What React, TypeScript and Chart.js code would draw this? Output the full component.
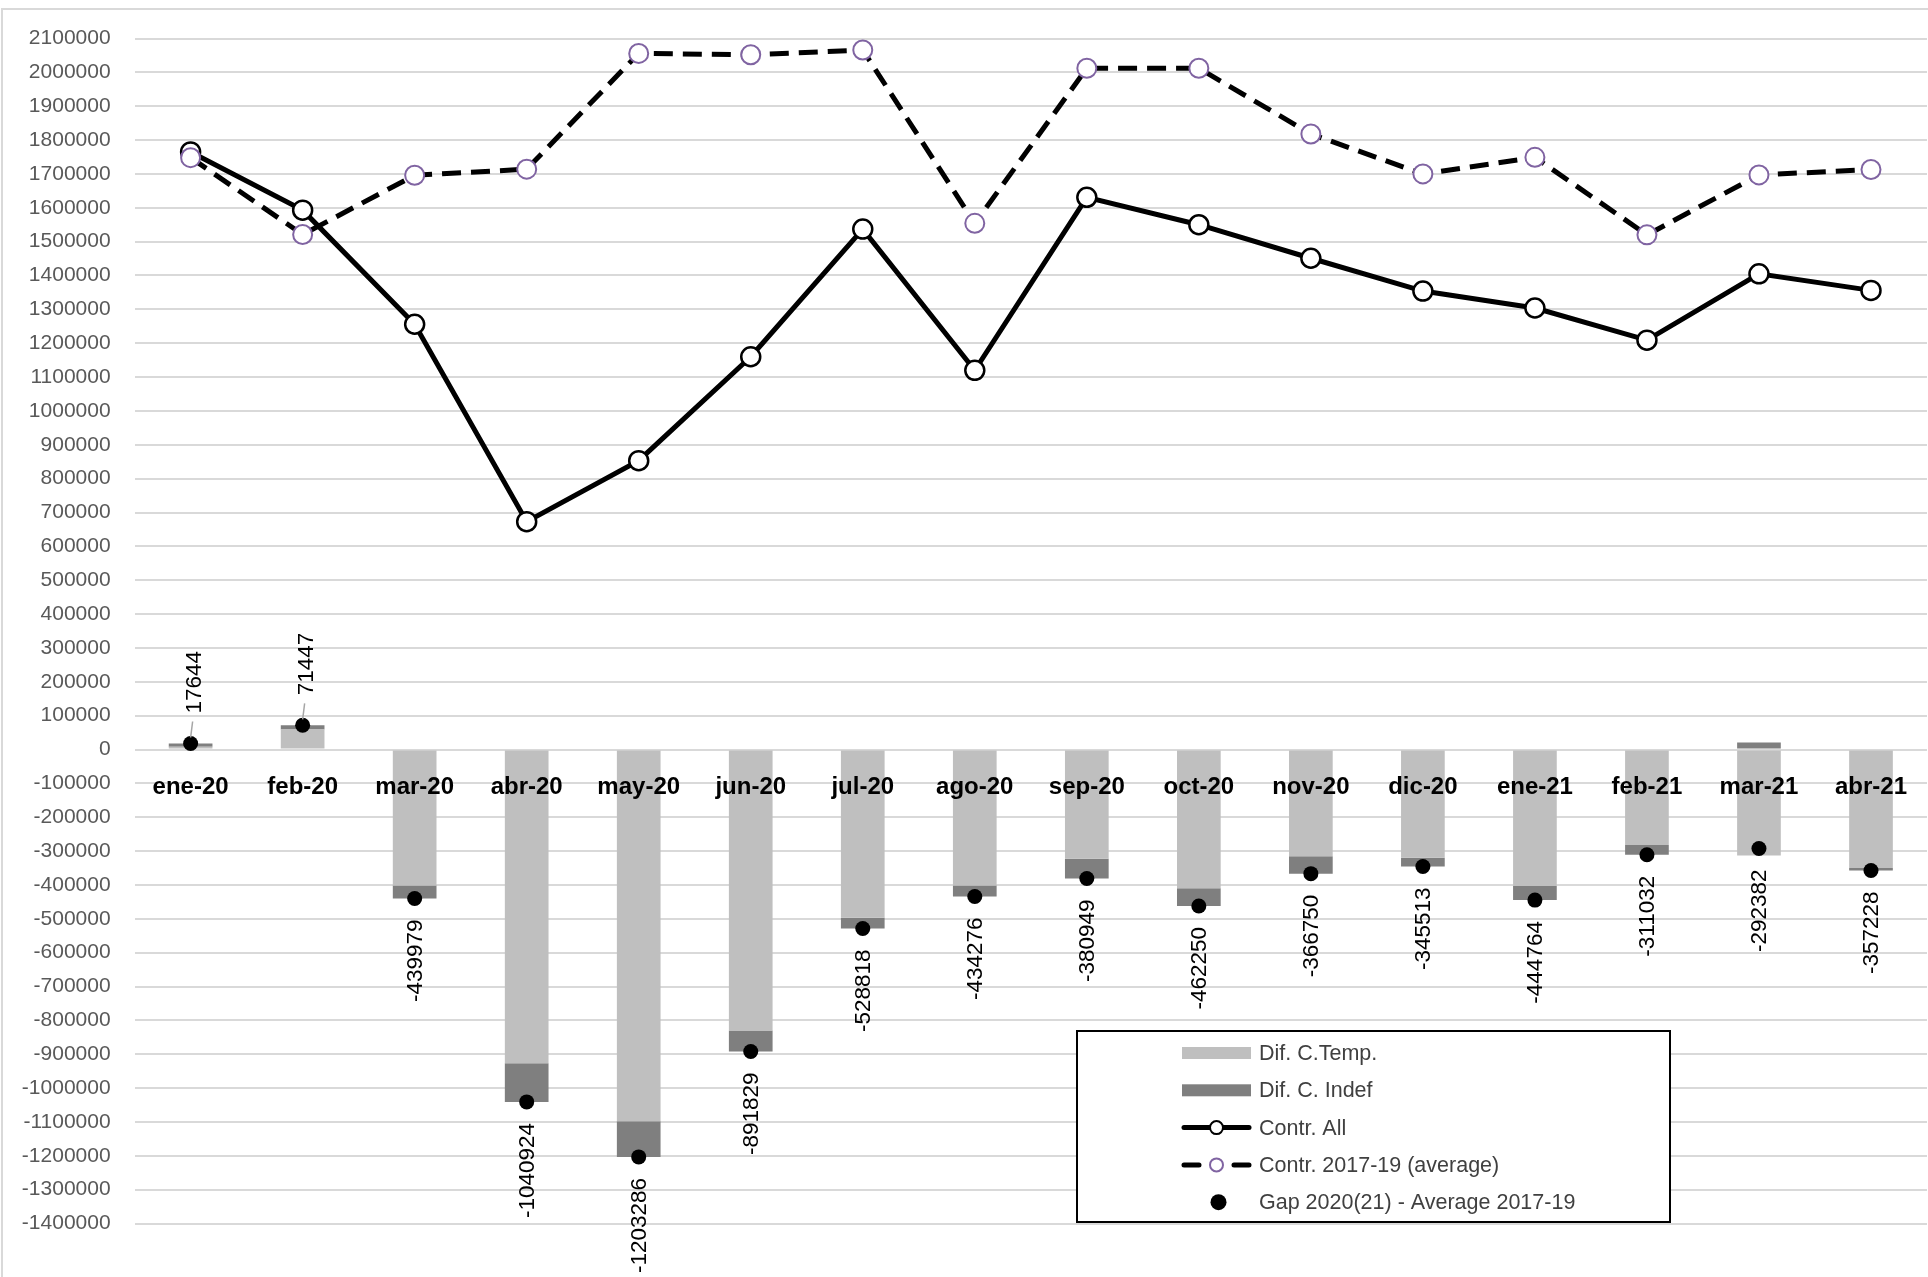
import React, { useEffect, useRef } from "react";
import { Chart, registerables } from "chart.js";

Chart.register(...registerables);

const FONT = "'Liberation Sans', Arial, sans-serif";

const months = [
  "ene-20", "feb-20", "mar-20", "abr-20", "may-20", "jun-20", "jul-20", "ago-20",
  "sep-20", "oct-20", "nov-20", "dic-20", "ene-21", "feb-21", "mar-21", "abr-21",
];

// Difference in temporary contracts vs. 2017-19 average
const difTemp = [
  8000, 59000, -402000, -927000, -1098000, -830000, -497000, -402000,
  -323000, -410000, -315000, -320000, -403000, -282000, -313000, -350000,
];

// Difference in open-ended contracts vs. 2017-19 average
const difIndef = [
  9644, 12447, -37979, -113924, -105286, -61829, -31818, -32276,
  -57949, -52250, -51750, -25513, -41764, -29032, 20618, -7228,
];

// Total contracts signed each month
const contrAll = [
  1765000, 1593000, 1256000, 673000, 853000, 1160000, 1537000, 1120000,
  1631000, 1550000, 1451000, 1354000, 1304000, 1209000, 1405000, 1356000,
];

// Average contracts for the same month in 2017-19
const contrAvg = [
  1748000, 1521000, 1696000, 1714000, 2056000, 2052000, 2066000, 1554000,
  2012000, 2012000, 1818000, 1700000, 1749000, 1520000, 1697000, 1713000,
];

// Gap 2020(21) minus average 2017-19 (labelled values)
const gap = [
  17644, 71447, -439979, -1040924, -1203286, -891829, -528818, -434276,
  -380949, -462250, -366750, -345513, -444764, -311032, -292382, -357228,
];

const yMin = -1400000;
const yMax = 2100000;
const yStep = 100000;

const LABEL_TEMP = "Dif. C.Temp.";
const LABEL_INDEF = "Dif. C. Indef";
const LABEL_ALL = "Contr. All";
const LABEL_AVG = "Contr. 2017-19 (average)";
const LABEL_GAP = "Gap 2020(21) - Average 2017-19";

const legendOrder = [LABEL_TEMP, LABEL_INDEF, LABEL_ALL, LABEL_AVG, LABEL_GAP];

const framePlugin = {
  id: "frame",
  beforeDraw(chart: any) {
    const { ctx } = chart;
    ctx.save();
    ctx.fillStyle = "#ffffff";
    ctx.fillRect(0, 0, chart.width, chart.height);
    ctx.strokeStyle = "#D9D9D9";
    ctx.lineWidth = 2;
    ctx.strokeRect(2, 9, chart.width + 20, chart.height + 20);
    ctx.restore();
  },
};

const gapLabelPlugin = {
  id: "gapLabels",
  afterDatasetsDraw(chart: any) {
    const idx = chart.data.datasets.findIndex((d: any) => d.label === LABEL_GAP);
    if (idx < 0) return;
    const meta = chart.getDatasetMeta(idx);
    const values = chart.data.datasets[idx].data as number[];
    const { ctx } = chart;
    ctx.save();
    ctx.font = `22.5px ${FONT}`;
    ctx.fillStyle = "#000000";
    ctx.textBaseline = "middle";
    meta.data.forEach((pt: any, i: number) => {
      const v = values[i];
      const { x, y } = pt;
      if (v >= 0) {
        ctx.save();
        ctx.strokeStyle = "#A6A6A6";
        ctx.lineWidth = 1.5;
        ctx.beginPath();
        ctx.moveTo(x, y - 6);
        ctx.lineTo(x + 2, y - 22);
        ctx.stroke();
        ctx.restore();
      }
      ctx.save();
      ctx.translate(x, y);
      ctx.rotate(-Math.PI / 2);
      if (v < 0) {
        ctx.textAlign = "right";
        ctx.fillText(String(v), -21, 1);
      } else {
        ctx.textAlign = "left";
        ctx.fillText(String(v), 30, 4);
      }
      ctx.restore();
    });
    ctx.restore();
  },
};

const legendPlugin = {
  id: "boxLegend",
  afterDraw(chart: any) {
    const { ctx } = chart;
    const left = 1077;
    const top = 1031;
    const w = 593;
    const h = 191;
    ctx.save();
    ctx.fillStyle = "#ffffff";
    ctx.fillRect(left, top, w, h);
    ctx.strokeStyle = "#000000";
    ctx.lineWidth = 2;
    ctx.strokeRect(left, top, w, h);

    const symL = 1182;
    const symR = 1251;
    const symC = (symL + symR) / 2;
    const textX = 1259;
    ctx.font = `21.5px ${FONT}`;
    ctx.textBaseline = "middle";
    ctx.textAlign = "left";

    legendOrder.forEach((label, i) => {
      const ds: any = chart.data.datasets.find((d: any) => d.label === label);
      if (!ds) return;
      const cy = top + 22 + i * 37.3;
      if (ds.type === "bar") {
        ctx.fillStyle = ds.backgroundColor;
        ctx.fillRect(symL, cy - 6, symR - symL, 12);
      } else if (ds.showLine === false) {
        ctx.fillStyle = ds.pointBackgroundColor;
        ctx.beginPath();
        ctx.arc(symC + 2, cy, 8, 0, Math.PI * 2);
        ctx.fill();
      } else {
        ctx.strokeStyle = ds.borderColor;
        ctx.lineWidth = 5;
        ctx.lineCap = "round";
        ctx.beginPath();
        if (ds.borderDash) {
          ctx.moveTo(symL + 2, cy);
          ctx.lineTo(symL + 17, cy);
          ctx.moveTo(symR - 17, cy);
          ctx.lineTo(symR - 2, cy);
        } else {
          ctx.moveTo(symL + 2, cy);
          ctx.lineTo(symR - 2, cy);
        }
        ctx.stroke();
        ctx.beginPath();
        ctx.arc(symC, cy, 6.5, 0, Math.PI * 2);
        ctx.fillStyle = ds.pointBackgroundColor;
        ctx.fill();
        ctx.lineWidth = 2;
        ctx.strokeStyle = ds.pointBorderColor;
        ctx.stroke();
      }
      ctx.fillStyle = "#404040";
      ctx.fillText(label, textX, cy + 1);
    });
    ctx.restore();
  },
};

export default function App() {
  const canvasRef = useRef<HTMLCanvasElement | null>(null);

  useEffect(() => {
    const canvas = canvasRef.current;
    if (!canvas) return;

    const chart = new Chart(canvas, {
      type: "bar",
      data: {
        labels: months,
        datasets: [
          {
            type: "line",
            label: LABEL_GAP,
            data: gap,
            showLine: false,
            pointRadius: 7.5,
            pointBackgroundColor: "#000000",
            pointBorderColor: "#000000",
            pointBorderWidth: 0,
            stack: "gap",
            order: 0,
          } as any,
          {
            type: "line",
            label: LABEL_AVG,
            data: contrAvg,
            borderColor: "#000000",
            borderWidth: 5,
            borderDash: [19, 10],
            pointRadius: 9.5,
            pointBackgroundColor: "#ffffff",
            pointBorderColor: "#8064A2",
            pointBorderWidth: 2,
            tension: 0,
            stack: "avg",
            order: 1,
          } as any,
          {
            type: "line",
            label: LABEL_ALL,
            data: contrAll,
            borderColor: "#000000",
            borderWidth: 5,
            pointRadius: 9.5,
            pointBackgroundColor: "#ffffff",
            pointBorderColor: "#000000",
            pointBorderWidth: 2.5,
            tension: 0,
            stack: "all",
            order: 2,
          } as any,
          {
            type: "bar",
            label: LABEL_TEMP,
            data: difTemp,
            backgroundColor: "#BFBFBF",
            stack: "dif",
            barPercentage: 0.39,
            categoryPercentage: 1,
            order: 3,
          } as any,
          {
            type: "bar",
            label: LABEL_INDEF,
            data: difIndef,
            backgroundColor: "#7F7F7F",
            stack: "dif",
            barPercentage: 0.39,
            categoryPercentage: 1,
            order: 3,
          } as any,
        ],
      },
      options: {
        responsive: false,
        maintainAspectRatio: false,
        devicePixelRatio: 1,
        animation: false,
        layout: {
          autoPadding: false,
          padding: { left: 0, right: 1, top: 38.5, bottom: 53.5 },
        },
        plugins: {
          legend: { display: false },
          tooltip: { enabled: false },
        },
        scales: {
          x: {
            stacked: true,
            position: { y: 0 } as any,
            offset: true,
            afterFit: (scale: any) => {
              scale.paddingLeft = 0;
              scale.paddingRight = 0;
            },
            grid: { display: false, drawTicks: false },
            border: { display: false },
            ticks: {
              z: 1,
              color: "#000000",
              font: { family: FONT, size: 24, weight: "bold" },
              padding: 23,
              autoSkip: false,
              maxRotation: 0,
            },
          },
          y: {
            stacked: true,
            min: yMin,
            max: yMax,
            afterFit: (scale: any) => {
              scale.width = 134.6;
            },
            grid: { color: "#D9D9D9", lineWidth: 2, drawTicks: false },
            border: { display: false },
            ticks: {
              stepSize: yStep,
              autoSkip: false,
              color: "#595959",
              font: { family: FONT, size: 21 },
              padding: 24,
              callback: (v: any) => String(v),
            },
          },
        },
      },
      plugins: [framePlugin, gapLabelPlugin, legendPlugin],
    } as any);

    return () => chart.destroy();
  }, []);

  return (
    <div
      style={{
        position: "fixed",
        left: 0,
        top: 0,
        width: 1928,
        height: 1277,
        background: "#ffffff",
      }}
    >
      <canvas
        ref={canvasRef}
        width={1928}
        height={1277}
        style={{ display: "block", width: 1928, height: 1277 }}
      />
    </div>
  );
}
